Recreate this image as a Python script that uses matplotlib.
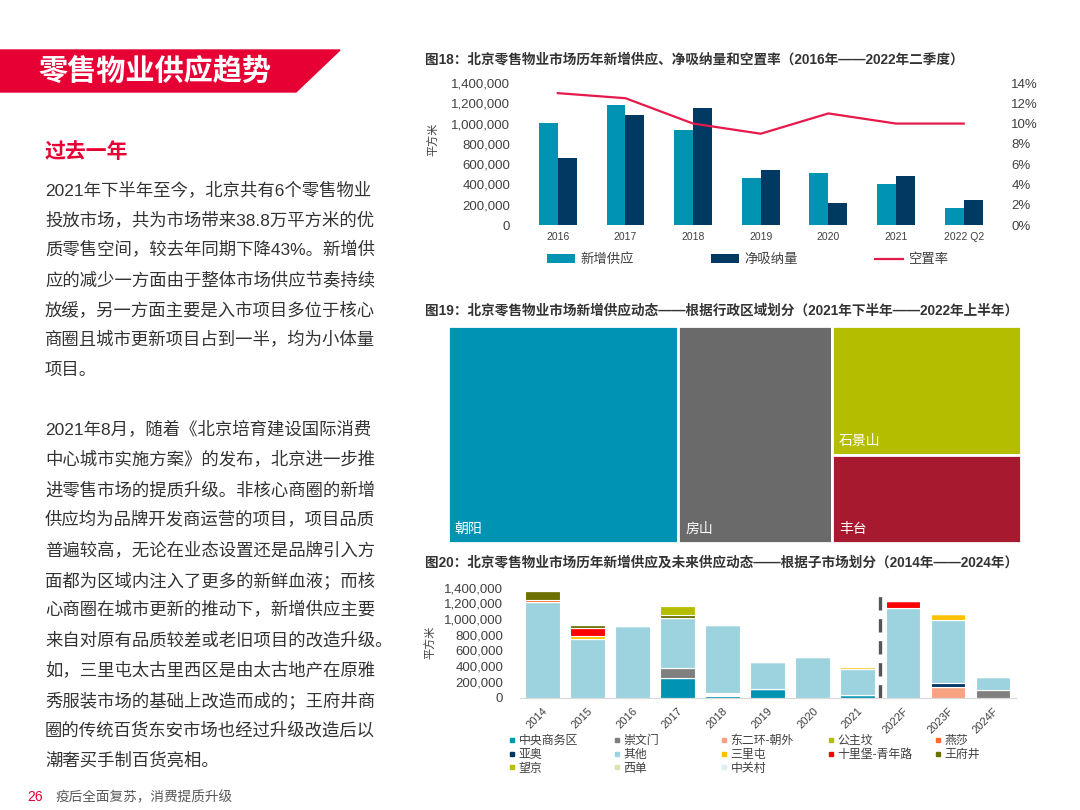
import matplotlib
matplotlib.use("Agg")
import matplotlib.pyplot as plt
from matplotlib.patches import Polygon
from matplotlib.lines import Line2D
from matplotlib.ticker import FuncFormatter, MultipleLocator

plt.rcParams['font.family'] = ['Liberation Sans', 'Noto Sans CJK SC', 'DejaVu Sans']

W, H = 1080, 810
RED = '#E60033'
TXT = '#333333'
TICK = '#404040'

# ---- 图18 data ----
years18 = ['2016', '2017', '2018', '2019', '2020', '2021', '2022 Q2']
new_supply = [1005000, 1180000, 935000, 468000, 511000, 401000, 163000]
net_absorption = [664000, 1085000, 1155000, 541000, 216000, 488000, 242000]
vacancy = [0.130, 0.125, 0.100, 0.090, 0.110, 0.100, 0.100]

# ---- 图19 data (万平方米) ----
districts = ['朝阳', '房山', '石景山', '丰台']
district_supply = [15.6, 10.4, 7.6, 5.2]
district_colors = ['#0093B2', '#6A6A6A', '#B5BD00', '#A6192E']

# ---- 图20 data ----
years20 = ['2014', '2015', '2016', '2017', '2018', '2019', '2020', '2021', '2022F', '2023F', '2024F']
sub_cbd = [0, 0, 0, 255000, 18000, 110000, 0, 35000, 0, 0, 0]
sub_dongerhuan = [0, 0, 0, 0, 0, 0, 0, 0, 0, 140000, 0]
sub_zhongguancun = [0, 0, 0, 0, 14000, 0, 0, 0, 0, 0, 0]
sub_chongwenmen = [0, 0, 0, 126000, 18000, 0, 0, 0, 0, 0, 100000]
sub_yaao = [0, 0, 0, 0, 14000, 0, 0, 0, 0, 45000, 0]
sub_other = [1215000, 750000, 910000, 628000, 861000, 345000, 518000, 330000, 1140000, 802000, 168000]
sub_xidan = [0] * 11
sub_sanlitun = [0, 30000, 0, 0, 0, 0, 0, 23000, 0, 80000, 0]
sub_shilipu = [0, 100000, 0, 0, 0, 0, 0, 0, 85000, 0, 0]
sub_yansha = [25000, 0, 0, 0, 0, 0, 0, 0, 0, 0, 0]
sub_wangfujing = [110000, 40000, 0, 45000, 0, 0, 0, 0, 0, 0, 0]
sub_gongzhufen = [0, 0, 0, 105000, 0, 0, 0, 0, 0, 0, 0]
sub_wangjing = [0] * 11

# stacking order (bottom to top)
stack = [
    ('中央商务区', sub_cbd, '#0094B3'),
    ('东二环-朝外', sub_dongerhuan, '#F7A280'),
    ('中关村', sub_zhongguancun, '#C9D6D9'),
    ('崇文门', sub_chongwenmen, '#7F7F7F'),
    ('亚奥', sub_yaao, '#003764'),
    ('其他', sub_other, '#9DD3DE'),
    ('西单', sub_xidan, '#D9E4B5'),
    ('三里屯', sub_sanlitun, '#FFC000'),
    ('十里堡-青年路', sub_shilipu, '#FF0000'),
    ('燕莎', sub_yansha, '#FF6B2C'),
    ('王府井', sub_wangfujing, '#6B7000'),
    ('公主坟', sub_gongzhufen, '#B5BD00'),
    ('望京', sub_wangjing, '#B8C000'),
]
legend_colors = {'中关村': '#DCEEF1'}
# legend layout, column by column
legend_cols = [['中央商务区', '亚奥', '望京'], ['崇文门', '其他', '西单'],
               ['东二环-朝外', '三里屯', '中关村'], ['公主坟', '十里堡-青年路'], ['燕莎', '王府井']]


def px_axes(fig, x0, y0, x1, y1):
    return fig.add_axes([x0 / W, 1 - y1 / H, (x1 - x0) / W, (y1 - y0) / H])


def fx(x):
    return x / W


def fy(y):
    return 1 - y / H


thousands = FuncFormatter(lambda v, p: f'{int(v):,}')

fig = plt.figure(figsize=(W / 100, H / 100), dpi=100)
fig.patch.set_facecolor('white')

# ---- left page ----
banner = Polygon([(fx(0), fy(50)), (fx(340), fy(50)), (fx(296), fy(92)), (fx(0), fy(92))],
                 closed=True, transform=fig.transFigure, color=RED, zorder=0)
fig.patches.append(banner)
fig.text(fx(38), fy(72), '零售物业供应趋势', color='white', fontsize=21,
         fontweight='bold', va='center', ha='left')
fig.text(fx(45), fy(152), '过去一年', color=RED, fontsize=15, fontweight='bold', va='center')

para1 = ["2021年下半年至今，北京共有6个零售物业", "投放市场，共为市场带来38.8万平方米的优",
         "质零售空间，较去年同期下降43%。新增供", "应的减少一方面由于整体市场供应节奏持续",
         "放缓，另一方面主要是入市项目多位于核心", "商圈且城市更新项目占到一半，均为小体量", "项目。"]
para2 = ["2021年8月，随着《北京培育建设国际消费", "中心城市实施方案》的发布，北京进一步推",
         "进零售市场的提质升级。非核心商圈的新增", "供应均为品牌开发商运营的项目，项目品质",
         "普遍较高，无论在业态设置还是品牌引入方", "面都为区域内注入了更多的新鲜血液；而核",
         "心商圈在城市更新的推动下，新增供应主要", "来自对原有品质较差或老旧项目的改造升级。",
         "如，三里屯太古里西区是由太古地产在原雅", "秀服装市场的基础上改造而成的；王府井商",
         "圈的传统百货东安市场也经过升级改造后以", "潮奢买手制百货亮相。"]
for i, line in enumerate(para1):
    fig.text(fx(45), fy(190 + i * 30), line, color=TXT, fontsize=12.5, va='center')
for i, line in enumerate(para2):
    fig.text(fx(45), fy(430 + i * 30), line, color=TXT, fontsize=12.5, va='center')

fig.text(fx(27), fy(797), '26', color=RED, fontsize=10, va='center')
fig.text(fx(55), fy(797), '疫后全面复苏，消费提质升级', color='#595959', fontsize=9.8, va='center')

# ---- 图18 ----
fig.text(fx(425), fy(60), '图18：北京零售物业市场历年新增供应、净吸纳量和空置率（2016年——2022年二季度）',
         fontsize=9.8, fontweight='bold', color='#333333', va='center')
ax1 = px_axes(fig, 524, 83, 997.5, 225)
x18 = list(range(len(years18)))
bw = 0.28
ax1.bar([i - bw / 2 for i in x18], new_supply, width=bw, color='#0093B2', label='新增供应')
ax1.bar([i + bw / 2 for i in x18], net_absorption, width=bw, color='#003A63', label='净吸纳量')
ax1.set_xlim(-0.5, len(years18) - 0.5)
ax1.set_ylim(0, 1400000)
ax1.yaxis.set_major_locator(MultipleLocator(200000))
ax1.yaxis.set_major_formatter(thousands)
ax1.set_xticks(x18)
ax1.set_xticklabels(years18)
ax1.tick_params(axis='y', length=0, pad=10, labelsize=9.5, labelcolor=TICK)
ax1.tick_params(axis='x', length=0, pad=5, labelsize=7.5, labelcolor=TICK)
for s in ax1.spines.values():
    s.set_visible(False)
ax1.set_ylabel('平方米', fontsize=8, color=TICK, labelpad=4)
ax1.yaxis.set_label_coords(-0.18, 0.6)

ax1r = ax1.twinx()
ax1r.plot(x18, vacancy, color='#E6194B', lw=1.6, label='空置率')
ax1r.set_ylim(0, 0.14)
ax1r.yaxis.set_major_locator(MultipleLocator(0.02))
ax1r.yaxis.set_major_formatter(FuncFormatter(lambda v, p: f'{v * 100:.0f}%'))
ax1r.tick_params(axis='y', length=0, pad=10, labelsize=9.5, labelcolor=TICK)
for s in ax1r.spines.values():
    s.set_visible(False)

h1, l1 = ax1.get_legend_handles_labels()
h2, l2 = ax1r.get_legend_handles_labels()
fig.legend(h1 + h2, l1 + l2, loc='center left', bbox_to_anchor=(fx(547), fy(260)), ncol=3,
           frameon=False, fontsize=9.6, handlelength=2.1, handleheight=0.7, handletextpad=0.4,
           columnspacing=5.8, borderpad=0, borderaxespad=0, labelcolor=TICK)

# ---- 图19 treemap ----
fig.text(fx(425), fy(311), '图19：北京零售物业市场新增供应动态——根据行政区域划分（2021年下半年——2022年上半年）',
         fontsize=9.8, fontweight='bold', color='#333333', va='center')
ax2 = px_axes(fig, 448, 325.5, 1021, 543)
total = sum(district_supply)
last_col = district_supply[2] + district_supply[3]
lefts = [0, district_supply[0], district_supply[0] + district_supply[1], district_supply[0] + district_supply[1]]
widths = [district_supply[0], district_supply[1], last_col, last_col]
bottoms = [0, 0, district_supply[3] / last_col, 0]
heights = [1, 1, district_supply[2] / last_col, district_supply[3] / last_col]
ax2.bar(lefts, heights, width=widths, bottom=bottoms, align='edge', color=district_colors,
        edgecolor='white', linewidth=2)
for name, l, b in zip(districts, lefts, bottoms):
    ax2.annotate(name, xy=(l, b), xytext=(5, 5), textcoords='offset points', color='white',
                 fontsize=10, ha='left', va='bottom')
ax2.set_xlim(0, total)
ax2.set_ylim(0, 1)
ax2.axis('off')

# ---- 图20 ----
fig.text(fx(425), fy(563), '图20：北京零售物业市场历年新增供应及未来供应动态——根据子市场划分（2014年——2024年）',
         fontsize=9.8, fontweight='bold', color='#333333', va='center')
ax3 = px_axes(fig, 520, 587.5, 1015.5, 697.7)
x20 = list(range(len(years20)))
base = [0] * len(years20)
handles = {}
for name, vals, col in stack:
    ax3.bar(x20, vals, bottom=base, width=0.77, color=col, edgecolor='white', linewidth=0.8)
    base = [b + v for b, v in zip(base, vals)]
    handles[name] = Line2D([], [], marker='s', markersize=3.5, linestyle='none',
                           color=legend_colors.get(name, col))
ax3.plot([7.5, 7.5], [0, 1316000], color='#555555', lw=2.4, dashes=(4, 2.6))
ax3.set_xlim(-0.5, len(years20) - 0.5)
ax3.set_ylim(0, 1400000)
ax3.yaxis.set_major_locator(MultipleLocator(200000))
ax3.yaxis.set_major_formatter(thousands)
ax3.set_xticks(x20)
ax3.set_xticklabels(years20, rotation=45, ha='right', rotation_mode='anchor')
ax3.tick_params(axis='y', length=0, pad=12, labelsize=9.5, labelcolor=TICK)
ax3.tick_params(axis='x', length=0, pad=6, labelsize=8, labelcolor=TICK)
for k, s in ax3.spines.items():
    s.set_visible(k == 'bottom')
ax3.spines['bottom'].set_color('#D9D9D9')
ax3.set_ylabel('平方米', fontsize=8, color=TICK)
ax3.yaxis.set_label_coords(-0.17, 0.5)

for cx, names in zip([509, 614, 721, 828, 935], legend_cols):
    fig.legend([handles[n] for n in names], names, loc='upper left',
               bbox_to_anchor=(fx(cx), fy(735)), frameon=False, fontsize=8.6,
               handlelength=0.5, handletextpad=0.3, labelspacing=0.15,
               borderpad=0, borderaxespad=0, labelcolor=TICK)

fig.savefig('out.png', dpi=100, facecolor='white')
